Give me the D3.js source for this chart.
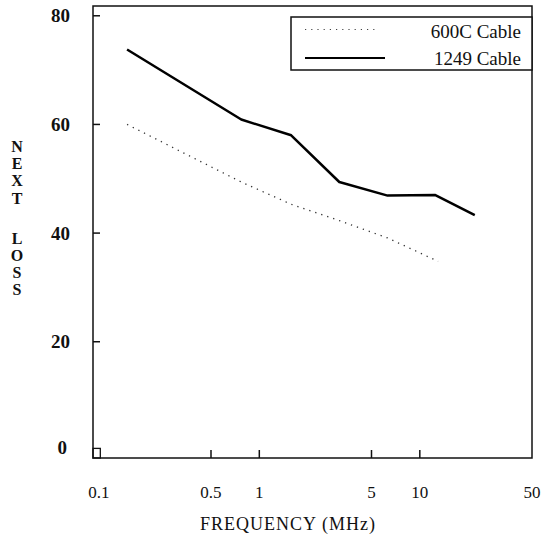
<!DOCTYPE html>
<html>
<head>
<meta charset="utf-8">
<script src="https://cdn.jsdelivr.net/npm/d3@7"></script>
<style>
  html, body { margin: 0; padding: 0; background: #fff; }
  svg { display: block; font-family: "Liberation Serif", "Times New Roman", serif; }
</style>
</head>
<body>
<div id="chart"></div>
<script>
// values
const freqs1249 = [0.15, 0.772, 1.58, 3.15, 6.3, 12.5, 22];
const loss1249 = [73.8, 60.9, 58.0, 49.4, 46.9, 47.0, 43.3];
const freqs600C = [0.15, 0.772, 1.58, 3.15, 6.3, 13];
const loss600C = [60.0, 49.4, 45.3, 42.3, 39.1, 34.8];

const xTicks = [0.1, 0.5, 1, 5, 10, 50];
const xTickLabels = ['0.1', '0.5', '1', '5', '10', '50'];
const yTicks = [0, 20, 40, 60, 80];
const yTitleTop = 'NEXT';
const yTitleBottom = 'LOSS';
const xTitle = 'FREQUENCY (MHz)';
const seriesNames = ['600C Cable', '1249 Cable'];

const width = 544, height = 545;
const plot = { left: 93, right: 532, top: 6, bottom: 458 };

const svg = d3.select('#chart').append('svg')
  .attr('width', width)
  .attr('height', height);

const x = d3.scaleLog().domain([0.092, 50]).range([plot.left, plot.right]);
const y = d3.scaleLinear().domain([-1.4, 81.8]).range([plot.bottom, plot.top]);

// frame
svg.append('rect')
  .attr('x', plot.left)
  .attr('y', plot.top)
  .attr('width', plot.right - plot.left)
  .attr('height', plot.bottom - plot.top)
  .attr('fill', 'none')
  .attr('stroke', '#111')
  .attr('stroke-width', 1.5);

// y ticks (inward) + labels
svg.selectAll('line.ytick')
  .data(yTicks.filter((d) => d > 0))
  .join('line')
  .attr('class', 'ytick')
  .attr('x1', plot.left)
  .attr('x2', plot.left + 7)
  .attr('y1', (d) => y(d))
  .attr('y2', (d) => y(d))
  .attr('stroke', '#111')
  .attr('stroke-width', 1.5);

svg.selectAll('text.ylab')
  .data(yTicks)
  .join('text')
  .attr('class', 'ylab')
  .attr('x', (d) => (d === 0 ? 67 : 70))
  .attr('y', (d) => y(d) - (d === 0 ? 3 : 0))
  .attr('text-anchor', 'end')
  .attr('dominant-baseline', 'central')
  .attr('font-size', 19)
  .attr('font-weight', 'bold')
  .attr('fill', '#111')
  .text((d) => d);

// x ticks (upward) + labels
svg.selectAll('line.xtick')
  .data(xTicks.filter((d) => d > 0.1 && d < 50))
  .join('line')
  .attr('class', 'xtick')
  .attr('x1', (d) => x(d))
  .attr('x2', (d) => x(d))
  .attr('y1', plot.bottom)
  .attr('y2', plot.bottom - 8)
  .attr('stroke', '#111')
  .attr('stroke-width', 1.5);

// little box marking the origin tick
svg.append('rect')
  .attr('x', plot.left)
  .attr('y', y(0) - 2)
  .attr('width', x(0.1) - plot.left + 1.5)
  .attr('height', plot.bottom - y(0) + 2)
  .attr('fill', 'none')
  .attr('stroke', '#111')
  .attr('stroke-width', 1.3);

svg.selectAll('text.xlab')
  .data(xTicks)
  .join('text')
  .attr('class', 'xlab')
  .attr('x', (d) => x(d))
  .attr('y', 492)
  .attr('text-anchor', 'middle')
  .attr('dominant-baseline', 'central')
  .attr('font-size', 17)
  .attr('fill', '#111')
  .text((d, i) => xTickLabels[i]);

svg.append('text')
  .attr('x', 288)
  .attr('y', 524)
  .attr('text-anchor', 'middle')
  .attr('dominant-baseline', 'central')
  .attr('font-size', 18)
  .attr('letter-spacing', 1)
  .attr('fill', '#111')
  .text(xTitle);

// stacked y title letters
const yLetters = [
  ...yTitleTop.split('').map((c, i) => ({ c, y: 146 + i * 17.4 })),
  ...yTitleBottom.split('').map((c, i) => ({ c, y: 238 + i * 17 }))
];
svg.selectAll('text.ytitle')
  .data(yLetters)
  .join('text')
  .attr('class', 'ytitle')
  .attr('x', 17)
  .attr('y', (d) => d.y)
  .attr('text-anchor', 'middle')
  .attr('dominant-baseline', 'central')
  .attr('font-size', 16)
  .attr('font-weight', 'bold')
  .attr('fill', '#111')
  .text((d) => d.c);

// series
const line = d3.line().x((d) => x(d[0])).y((d) => y(d[1]));

svg.append('path')
  .datum(d3.zip(freqs600C, loss600C))
  .attr('d', line)
  .attr('fill', 'none')
  .attr('stroke', '#333')
  .attr('stroke-width', 1.3)
  .attr('stroke-dasharray', '1.3,5');

svg.append('path')
  .datum(d3.zip(freqs1249, loss1249))
  .attr('d', line)
  .attr('fill', 'none')
  .attr('stroke', '#000')
  .attr('stroke-width', 2.5)
  .attr('stroke-linejoin', 'round');

// legend
const lg = svg.append('g');
lg.append('rect')
  .attr('x', 291)
  .attr('y', 17)
  .attr('width', plot.right - 291)
  .attr('height', 53)
  .attr('fill', '#fff')
  .attr('stroke', '#111')
  .attr('stroke-width', 1.5);

lg.append('line')
  .attr('x1', 305).attr('x2', 377)
  .attr('y1', 29.5).attr('y2', 29.5)
  .attr('stroke', '#444')
  .attr('stroke-width', 1.2)
  .attr('stroke-dasharray', '1.2,5');

lg.append('line')
  .attr('x1', 305).attr('x2', 385)
  .attr('y1', 58).attr('y2', 58)
  .attr('stroke', '#000')
  .attr('stroke-width', 2);

lg.selectAll('text')
  .data(seriesNames)
  .join('text')
  .attr('x', 521)
  .attr('y', (d, i) => 31 + i * 27)
  .attr('text-anchor', 'end')
  .attr('dominant-baseline', 'central')
  .attr('font-size', 19)
  .attr('fill', '#111')
  .text((d) => d);
</script>
</body>
</html>
